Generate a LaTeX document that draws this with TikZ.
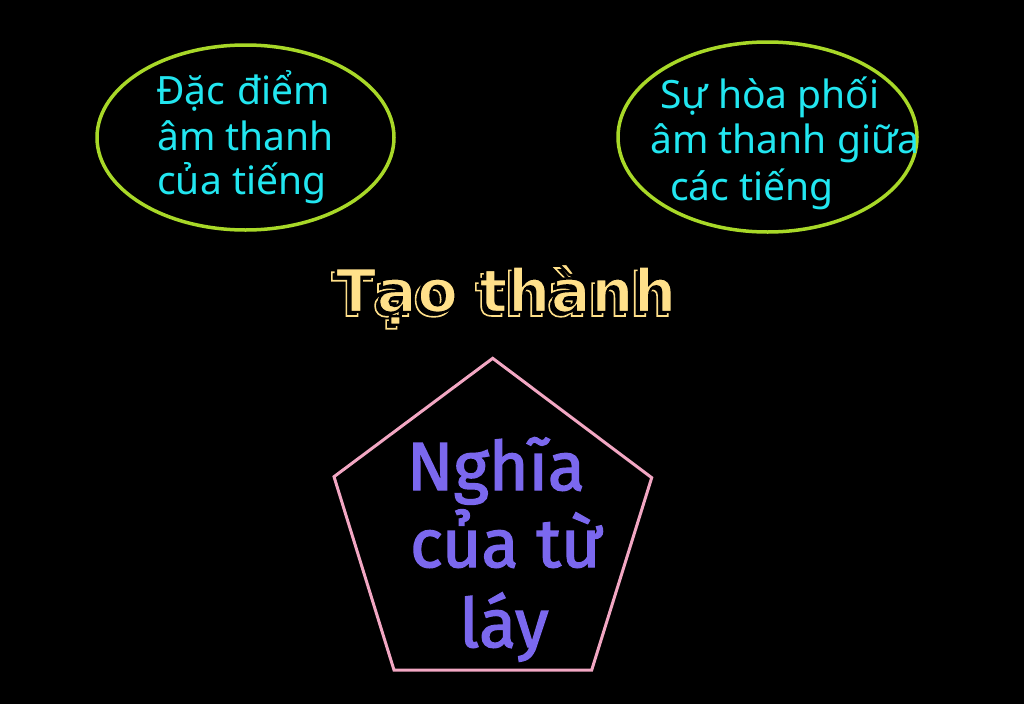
\documentclass[tikz,border=0pt]{standalone}
\usepackage{fontspec}
\setmainfont{Noto Sans}
\newfontfamily\titlefont{DejaVu Sans}
\newfontfamily\pentfont{Fira Sans}
\usetikzlibrary{shapes.geometric}
\definecolor{ringc}{HTML}{A8D828}
\definecolor{cyantxt}{HTML}{22E6F0}
\definecolor{goldc}{HTML}{FFE08A}
\definecolor{pinkc}{HTML}{F2A7C3}
\definecolor{purp}{HTML}{7B68EE}
\newcommand{\strokedtext}[2]{\special{pdf:literal direct q 2 Tr #1}#2\special{pdf:literal direct Q}}
\tikzset{
  ring/.style={ellipse, draw=ringc, line width=3.5pt, inner sep=0pt},
  ctext/.style={text=cyantxt, inner sep=0pt, anchor=base west, font=\fontsize{39}{45}\selectfont},
  pentline/.style={draw=pinkc, line width=3pt, line join=miter},
  ptext/.style={text=purp, inner sep=0pt, anchor=base, font=\pentfont\fontsize{68}{74}\selectfont},
  ttext/.style={inner sep=0pt, anchor=base, font=\titlefont\bfseries\fontsize{60}{66}\selectfont}
}
\begin{document}
\begin{tikzpicture}[x=1pt,y=-1pt]
\fill[black] (0,0) rectangle (1024,704);
\useasboundingbox (0,0) rectangle (1024,704);
% left ellipse
\node[ring, minimum width=297pt, minimum height=185pt] (e1) at (245.5,137.5) {};
\node[ctext] (t1a) at (156,104) {Đặc\hspace{2pt} điểm};
\node[ctext] (t1b) at (157,150) {âm thanh};
\node[ctext] (t1c) at (157,194) {của tiếng};
% right ellipse
\node[ring, minimum width=299pt, minimum height=190pt] (e2) at (767.5,137) {};
\node[ctext] (t2a) at (660,108) {Sự hòa phối};
\node[ctext] (t2b) at (650,153) {âm thanh giữa};
\node[ctext] (t2c) at (670,200) {các tiếng};
% title: extrusion copy behind, outlined face in front
\coordinate (tc) at (506,312);
\node[ttext, text=black] (titleback) at ([shift={(-4,4)}]tc) {\strokedtext{1.6 w 1 0.878 0.541 RG}{Tạo thành}};
\node[ttext, text=goldc] (title) at (tc) {\strokedtext{2.4 w 0 0 0 RG}{Tạo thành}};
% pentagon
\coordinate (p1) at (492.7,358.3);
\coordinate (p2) at (651.7,477.7);
\coordinate (p3) at (591.7,670);
\coordinate (p4) at (394,670);
\coordinate (p5) at (334,476.7);
\draw[pentline] (p1) -- (p2) -- (p3) -- (p4) -- (p5) -- cycle;
\node[ptext] (n1) at (496,490) {\strokedtext{1.4 w 0.482 0.408 0.933 RG}{Nghĩa}};
\node[ptext] (n2) at (506,567) {\strokedtext{1.4 w 0.482 0.408 0.933 RG}{của từ}};
\node[ptext] (n3) at (504,647) {\strokedtext{1.4 w 0.482 0.408 0.933 RG}{láy}};
\end{tikzpicture}
\end{document}
